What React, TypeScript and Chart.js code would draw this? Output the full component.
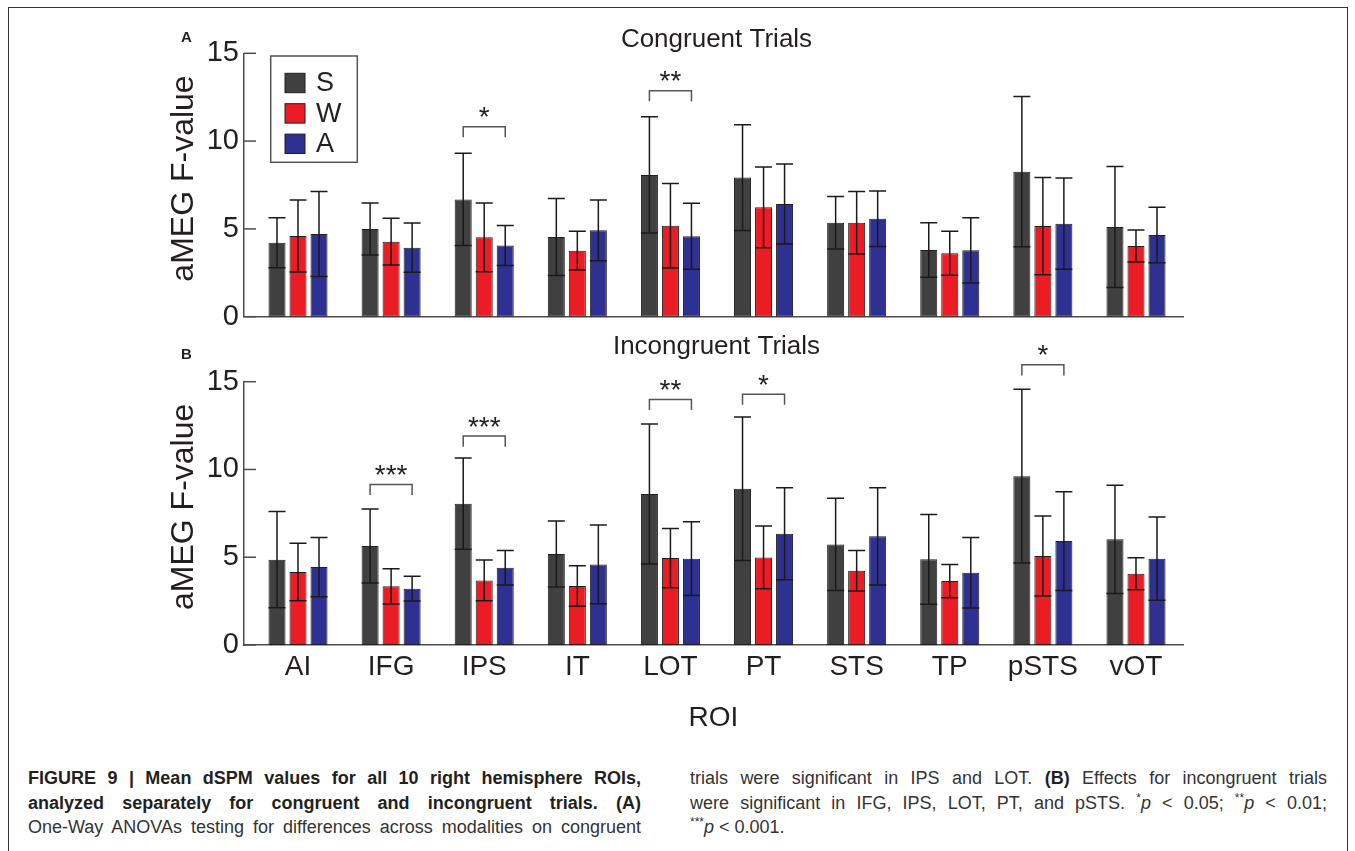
import React, { useEffect, useRef } from 'react';
import { Chart, registerables } from 'chart.js';

Chart.register(...registerables);

const FONT = '"Liberation Sans", Arial, Helvetica, sans-serif';
const TEXT = '#231f20';
const AXIS = '#4d4d4d';

const categories = ['AI', 'IFG', 'IPS', 'IT', 'LOT', 'PT', 'STS', 'TP', 'pSTS', 'vOT'];
const seriesNames = ['S', 'W', 'A'];
const seriesColors = ['#404040', '#ec1c24', '#2e3192'];
const yTicks = [0, 5, 10, 15];

// Panel A: congruent trials
const congS = [4.21, 4.99, 6.68, 4.54, 8.07, 7.92, 5.35, 3.8, 8.26, 5.11];
const congSErr = [1.42, 1.48, 2.63, 2.19, 3.31, 3.01, 1.5, 1.55, 4.28, 3.45];
const congW = [4.6, 4.27, 4.52, 3.76, 5.18, 6.23, 5.35, 3.61, 5.16, 4.03];
const congWErr = [2.05, 1.33, 1.96, 1.1, 2.4, 2.3, 1.78, 1.25, 2.77, 0.91];
const congA = [4.71, 3.93, 4.06, 4.92, 4.58, 6.42, 5.58, 3.78, 5.3, 4.65];
const congAErr = [2.42, 1.4, 1.14, 1.73, 1.88, 2.28, 1.58, 1.86, 2.6, 1.58];
const congSigCats = [2, 4];
const congSigLevels = [10.82, 12.87];
const congSigLabels = ['*', '**'];

// Panel B: incongruent trials
const incS = [4.86, 5.64, 8.05, 5.18, 8.6, 8.9, 5.73, 4.88, 9.62, 6.02];
const incSErr = [2.74, 2.11, 2.6, 1.88, 3.99, 4.09, 2.63, 2.56, 4.95, 3.08];
const incW = [4.16, 3.34, 3.68, 3.36, 4.95, 4.99, 4.23, 3.64, 5.07, 4.06];
const incWErr = [1.64, 1.01, 1.16, 1.15, 1.69, 1.79, 1.16, 0.95, 2.28, 0.91];
const incA = [4.44, 3.21, 4.4, 4.59, 4.92, 6.34, 6.19, 4.12, 5.92, 4.92];
const incAErr = [1.69, 0.7, 0.98, 2.24, 2.1, 2.62, 2.77, 2.01, 2.81, 2.37];
const incSigCats = [1, 2, 4, 5, 8];
const incSigLevels = [9.15, 11.9, 13.99, 14.28, 15.96];
const incSigLabels = ['***', '***', '**', '*', '*'];

type PanelSpec = {
  values: number[][];
  errors: number[][];
  sigCats: number[];
  sigLevels: number[];
  sigLabels: string[];
  title: string;
  titleY: number;
  tag: string;
  tagY: number;
  showXLabels: boolean;
  showLegend: boolean;
  width: number;
  height: number;
  padTop: number;
  xAxisHeight: number;
};

function buildConfig(s: PanelSpec): any {
  const datasets = seriesNames.map((name, d) => ({
    label: name,
    data: s.values[d].map((v, i) => ({ x: i, y: v })),
    backgroundColor: seriesColors[d],
    borderColor: '#1e1e1e',
    borderWidth: 1,
    borderSkipped: false,
    categoryPercentage: 0.677,
    barPercentage: 0.81,
  }));

  const overlay = {
    id: 'overlay',
    afterDatasetsDraw(chart: any) {
      const ctx = chart.ctx;
      const y = chart.scales.y;
      const ca = chart.chartArea;
      ctx.save();
      // error bars
      ctx.strokeStyle = '#1a1a1a';
      ctx.lineWidth = 1.5;
      for (let d = 0; d < seriesNames.length; d++) {
        const meta = chart.getDatasetMeta(d);
        meta.data.forEach((bar: any, i: number) => {
          const { x, width } = bar.getProps(['x', 'width'], true);
          const m = s.values[d][i];
          const e = s.errors[d][i];
          const yt = y.getPixelForValue(m + e);
          const yb = y.getPixelForValue(m - e);
          ctx.beginPath();
          ctx.moveTo(x, yt);
          ctx.lineTo(x, yb);
          ctx.moveTo(x - width / 2, yt);
          ctx.lineTo(x + width / 2, yt);
          ctx.moveTo(x - width / 2, yb);
          ctx.lineTo(x + width / 2, yb);
          ctx.stroke();
        });
      }
      // significance brackets
      s.sigCats.forEach((c, k) => {
        const x1 = chart.getDatasetMeta(0).data[c].x;
        const x2 = chart.getDatasetMeta(2).data[c].x;
        const yl = y.getPixelForValue(s.sigLevels[k]);
        const yb = y.getPixelForValue(s.sigLevels[k] - 0.6);
        ctx.strokeStyle = '#555';
        ctx.lineWidth = 1.5;
        ctx.beginPath();
        ctx.moveTo(x1, yb);
        ctx.lineTo(x1, yl);
        ctx.lineTo(x2, yl);
        ctx.lineTo(x2, yb);
        ctx.stroke();
        ctx.fillStyle = TEXT;
        ctx.font = `28px ${FONT}`;
        ctx.textAlign = 'center';
        ctx.textBaseline = 'alphabetic';
        ctx.fillText(s.sigLabels[k], (x1 + x2) / 2, yl - 0.5);
      });
      // inward y tick marks
      ctx.strokeStyle = AXIS;
      ctx.lineWidth = 1.5;
      yTicks.forEach((v) => {
        const py = y.getPixelForValue(v);
        ctx.beginPath();
        ctx.moveTo(ca.left, py);
        ctx.lineTo(ca.left + 12, py);
        ctx.stroke();
      });
      ctx.restore();
    },
    afterDraw(chart: any) {
      const ctx = chart.ctx;
      const ca = chart.chartArea;
      ctx.save();
      ctx.fillStyle = TEXT;
      ctx.textAlign = 'center';
      ctx.textBaseline = 'middle';
      ctx.font = `26px ${FONT}`;
      ctx.fillText(s.title, (ca.left + ca.right) / 2 + 3, s.titleY);
      ctx.font = `bold 15px ${FONT}`;
      ctx.fillText(s.tag, ca.left - 57.5, s.tagY);
      // y-axis title
      ctx.save();
      ctx.translate(ca.left - 60, (ca.top + ca.bottom) / 2 - 6.5);
      ctx.rotate(-Math.PI / 2);
      ctx.font = `32px ${FONT}`;
      ctx.fillText('aMEG F-value', 0, 0);
      ctx.restore();
      if (s.showLegend) {
        const bx = ca.left + 26.7;
        const by = ca.top + 2.7;
        ctx.strokeStyle = '#555';
        ctx.lineWidth = 1.5;
        ctx.strokeRect(bx, by, 86.6, 106.3);
        seriesNames.forEach((n, d) => {
          const cy = by + 27 + d * 30.4;
          ctx.fillStyle = seriesColors[d];
          ctx.fillRect(bx + 14.3, cy - 9.7, 20, 19.4);
          ctx.strokeStyle = '#1e1e1e';
          ctx.lineWidth = 1;
          ctx.strokeRect(bx + 14.3, cy - 9.7, 20, 19.4);
          ctx.fillStyle = TEXT;
          ctx.font = `27px ${FONT}`;
          ctx.textAlign = 'left';
          ctx.textBaseline = 'middle';
          ctx.fillText(n, bx + 45.3, cy + 1);
        });
      }
      ctx.restore();
    },
  };

  return {
    type: 'bar',
    data: { datasets },
    options: {
      animation: false,
      responsive: false,
      devicePixelRatio: 1,
      events: [],
      layout: { padding: { left: 150, right: 172, top: s.padTop, bottom: 0 } },
      plugins: {
        legend: { display: false },
        tooltip: { enabled: false },
        title: { display: false },
      },
      scales: {
        x: {
          type: 'linear',
          min: -0.58,
          max: 9.505,
          offset: false,
          grid: { display: false, drawTicks: false },
          border: { display: true, color: AXIS, width: 1.5 },
          afterBuildTicks: (sc: any) => {
            sc.ticks = categories.map((_, i) => ({ value: i }));
          },
          ticks: {
            display: s.showXLabels,
            autoSkip: false,
            maxRotation: 0,
            minRotation: 0,
            padding: 5,
            color: TEXT,
            font: { family: FONT, size: 28 },
            callback: (v: any) => categories[v] ?? '',
          },
          title: {
            display: s.showXLabels,
            text: 'ROI',
            color: TEXT,
            font: { family: FONT, size: 28 },
            padding: { top: 0, bottom: 10 },
          },
          afterFit: (sc: any) => {
            sc.height = s.xAxisHeight;
          },
        },
        y: {
          type: 'linear',
          min: 0,
          max: 15,
          afterBuildTicks: (sc: any) => {
            sc.ticks = yTicks.map((v) => ({ value: v }));
          },
          grid: { display: false, drawTicks: false },
          border: { display: true, color: AXIS, width: 1.5 },
          ticks: { padding: 5, color: TEXT, font: { family: FONT, size: 29 } },
          title: { display: false },
          afterFit: (sc: any) => {
            sc.width = 94;
          },
        },
      },
    },
    plugins: [overlay],
  };
}

const topSpec: PanelSpec = {
  values: [congS, congW, congA],
  errors: [congSErr, congWErr, congAErr],
  sigCats: congSigCats,
  sigLevels: congSigLevels,
  sigLabels: congSigLabels,
  title: 'Congruent Trials',
  titleY: 40,
  tag: 'A',
  tagY: 38,
  showXLabels: false,
  showLegend: true,
  width: 1355,
  height: 340,
  padTop: 53.3,
  xAxisHeight: 23.3,
};

const bottomSpec: PanelSpec = {
  values: [incS, incW, incA],
  errors: [incSErr, incWErr, incAErr],
  sigCats: incSigCats,
  sigLevels: incSigLevels,
  sigLabels: incSigLabels,
  title: 'Incongruent Trials',
  titleY: 21.5,
  tag: 'B',
  tagY: 30,
  showXLabels: true,
  showLegend: false,
  width: 1355,
  height: 420,
  padTop: 56.7,
  xAxisHeight: 100,
};

function Panel({ spec, top }: { spec: PanelSpec; top: number }) {
  const ref = useRef<HTMLCanvasElement | null>(null);
  useEffect(() => {
    const chart = new Chart(ref.current as HTMLCanvasElement, buildConfig(spec));
    return () => chart.destroy();
  }, [spec]);
  return (
    <canvas
      ref={ref}
      width={spec.width}
      height={spec.height}
      style={{ position: 'absolute', left: 0, top, width: spec.width, height: spec.height }}
    />
  );
}

const lineBase: React.CSSProperties = {
  height: 24.5,
  lineHeight: '24.5px',
  fontSize: 18,
  textAlign: 'justify',
  textAlignLast: 'justify' as any,
  overflow: 'hidden',
  color: '#333',
};

const Star = ({ n }: { n: number }) => (
  <span style={{ fontSize: 12, verticalAlign: 'super', lineHeight: 0 }}>{'*'.repeat(n)}</span>
);

export default function App() {
  return (
    <div
      style={{
        position: 'relative',
        width: 1355,
        height: 851,
        overflow: 'hidden',
        background: '#fff',
        fontFamily: FONT,
      }}
    >
      <style>{'html,body{margin:0;padding:0;overflow:hidden;background:#fff}'}</style>
      <div
        style={{
          position: 'absolute',
          left: 8,
          top: 7,
          width: 1340,
          height: 900,
          border: '1px solid #333',
          boxSizing: 'border-box',
        }}
      />
      <Panel spec={topSpec} top={0} />
      <Panel spec={bottomSpec} top={325} />
      <div style={{ position: 'absolute', left: 28, top: 766, width: 613 }}>
        <div style={{ ...lineBase, fontWeight: 'bold', color: TEXT }}>
          FIGURE 9 | Mean dSPM values for all 10 right hemisphere ROIs,
        </div>
        <div style={{ ...lineBase, fontWeight: 'bold', color: TEXT }}>
          analyzed separately for congruent and incongruent trials. (A)
        </div>
        <div style={lineBase}>One-Way ANOVAs testing for differences across modalities on congruent</div>
      </div>
      <div style={{ position: 'absolute', left: 690, top: 766, width: 637 }}>
        <div style={lineBase}>
          trials were significant in IPS and LOT. <b style={{ color: TEXT }}>(B)</b> Effects for incongruent trials
        </div>
        <div style={lineBase}>
          were significant in IFG, IPS, LOT, PT, and pSTS. <Star n={1} />
          <i>p</i> &lt; 0.05; <Star n={2} />
          <i>p</i> &lt; 0.01;
        </div>
        <div style={{ ...lineBase, textAlign: 'left', textAlignLast: 'left' as any }}>
          <Star n={3} />
          <i>p</i> &lt; 0.001.
        </div>
      </div>
    </div>
  );
}
